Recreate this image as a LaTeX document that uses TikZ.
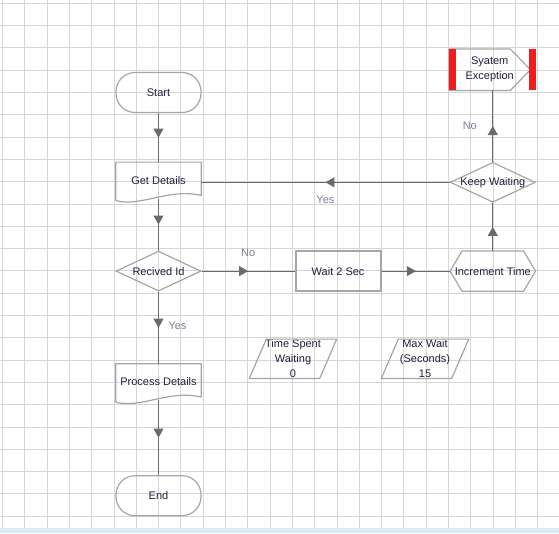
\documentclass[tikz,border=0pt]{standalone}
\usepackage{fontspec}
\setmainfont{Liberation Sans}
\usetikzlibrary{positioning,arrows.meta,shapes.geometric,decorations.markings}
\definecolor{ink}{HTML}{1F1F3F}
\definecolor{rim}{HTML}{A6A6A6}
\definecolor{wire}{HTML}{6B6B6B}
\definecolor{gridgray}{HTML}{D6D6D6}
\definecolor{labelgray}{HTML}{7E7E98}
\definecolor{alarm}{HTML}{EE1C1C}
\definecolor{strip}{HTML}{DDEBF7}

\begin{document}
\begin{tikzpicture}[x=1pt,y=-1pt,font=\fontsize{11}{15}\selectfont,
  every label/.style={text=ink,align=center,inner sep=0pt},
  terminal/.style={draw=rim,line width=1.2pt,rounded corners=19pt,
                   minimum width=85pt,minimum height=40pt,text=ink},
  process/.style={draw=rim,line width=2pt,minimum width=85pt,minimum height=40pt,text=ink},
  decision/.style={diamond,draw=rim,line width=1.2pt,inner sep=0pt,
                   minimum width=85pt,minimum height=40pt},
  slot/.style={minimum width=85pt,minimum height=36pt,text=ink,align=center},
  outline/.style={draw=rim,line width=1.2pt,line join=round},
  flow/.style={draw=wire,line width=1pt,postaction={decorate},
               decoration={markings,mark=at position 0.5 with
                 {\arrow[wire]{Triangle[width=10pt,length=9pt]}}}},
  yesno/.style={text=labelgray,inner sep=1pt}]
\useasboundingbox (0,0) rectangle (559,533);
\fill[white] (0,0) rectangle (559,533);
% sheet grid, snapped to whole points
\foreach \k [evaluate=\k as \g using {int(2.5+\k*22.3)+0.5}] in {0,...,24}
  \draw[gridgray,line width=1.3pt] (\g,0) -- (\g,528);
\foreach \k [evaluate=\k as \g using {int(3.3+\k*22.3)+0.5}] in {0,...,23}
  \draw[gridgray,line width=1.3pt] (0,\g) -- (559,\g);
\fill[strip] (0,528) rectangle (559,533);

% main column
\node[terminal] (start) at (158.5,92.5) {Start};
\node[slot,below=49pt of start] (getdet) {Get Details};
\node[decision,below=52pt of getdet,label={center:Recived Id}] (recv) {};
\node[slot,below=72pt of recv] (proc) {Process Details};
\node[terminal,below=75pt of proc] (stop) {End};

% waiting loop
\node[process,right=93pt of recv] (wait) {Wait 2 Sec};
\node[slot,minimum height=40pt,right=68.5pt of wait] (inc) {Increment Time};
\node[decision,above=48pt of inc,label={center:Keep Waiting}] (keep) {};
\node[slot,minimum width=81pt,minimum height=41pt] (exc) at (489.7,69.7) {Syatem\\Exception};

% data
\node[slot,minimum width=87pt,minimum height=39pt,label={center:Time Spent\\Waiting\\0}] (spent) at (293,358.8) {};
\node[slot,minimum width=87pt,minimum height=39pt,label={center:Max Wait\\(Seconds)\\15}] (maxwait) at (425,358.8) {};

% outlines of the drawn shapes
\draw[outline] ([yshift=3pt]getdet.south east) -- (getdet.north east) -- (getdet.north west)
  -- ([yshift=-2pt]getdet.south west) .. controls +(24.3,7) and +(-31,-8) .. ([yshift=3pt]getdet.south east) -- cycle;
\draw[outline] ([yshift=3pt]proc.south east) -- (proc.north east) -- (proc.north west)
  -- ([yshift=-2pt]proc.south west) .. controls +(24.3,7) and +(-31,-8) .. ([yshift=3pt]proc.south east) -- cycle;
\draw[outline] ([xshift=12pt]inc.north west) -- ([xshift=-12pt]inc.north east) -- (inc.east)
  -- ([xshift=-12pt]inc.south east) -- ([xshift=12pt]inc.south west) -- (inc.west) -- cycle;
\draw[outline] (exc.north west) -- ([xshift=-20pt]exc.north east) -- (exc.east)
  -- ([xshift=-20pt]exc.south east) -- (exc.south west) -- cycle;
\foreach \d in {spent,maxwait}
  \draw[outline] ([xshift=17pt]\d.north west) -- (\d.north east)
    -- ([xshift=-17pt]\d.south east) -- (\d.south west) -- cycle;
\fill[alarm] (exc.north west) rectangle ([xshift=7pt]exc.south west);
\fill[alarm] ([xshift=-1.5pt]exc.north east) rectangle ([xshift=6pt]exc.south east);

% connectors
\draw[flow] (start) -- (getdet);
\draw[flow] (getdet) -- (recv);
\draw[flow] (recv) -- node[yesno,xshift=19pt,yshift=2pt] {Yes} (proc);
\draw[flow] (proc) -- (stop);
\draw[flow] (recv) -- node[yesno,yshift=18pt] {No} (wait);
\draw[flow] (wait) -- (inc);
\draw[flow] (inc) -- (keep);
\draw[flow] (keep.north) -- node[yesno,xshift=-23pt] {No} (keep.north |- exc.south);
\draw[flow] (keep.west) -- node[yesno,yshift=-17pt] {Yes} (keep.west -| getdet.east);
\end{tikzpicture}
\end{document}
